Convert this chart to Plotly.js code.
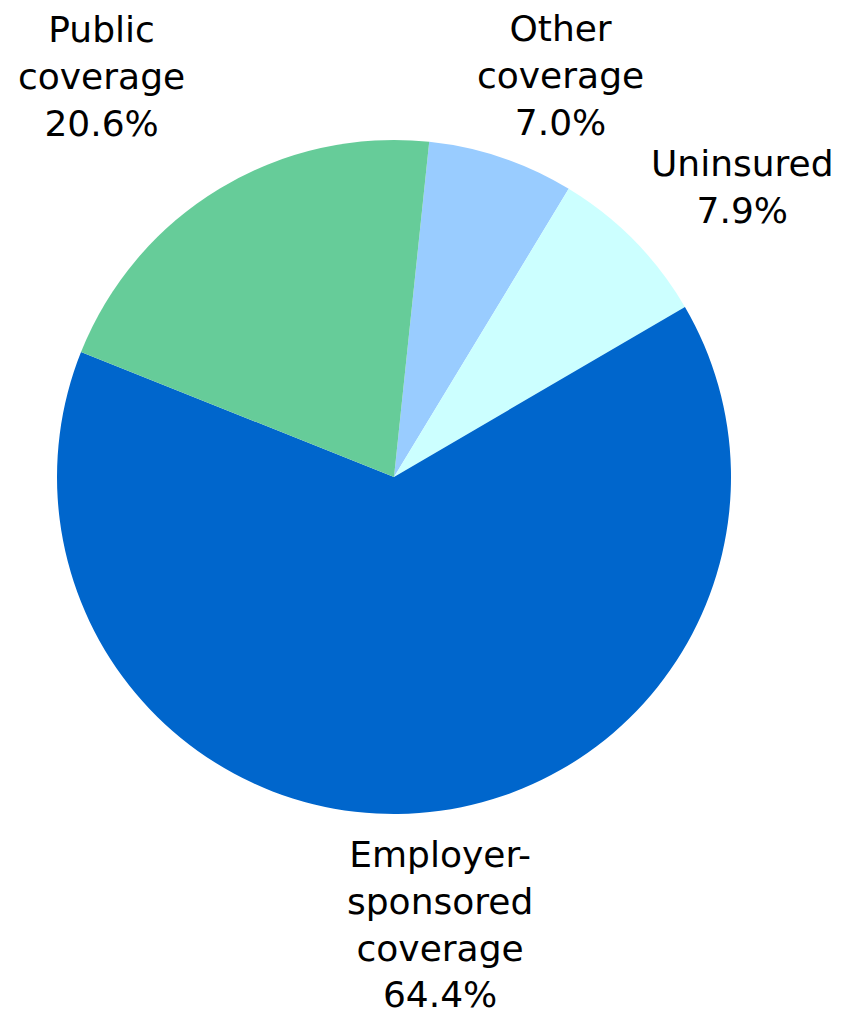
<!DOCTYPE html>
<html>
<head>
<meta charset="utf-8">
<script src="https://cdn.plot.ly/plotly-3.0.1.min.js"></script>
<style>html,body{margin:0;padding:0;background:#fff;}#chart{width:841px;height:1019px;}</style>
</head>
<body>
<div id="chart"></div>
<script>
const categories = ["Other coverage", "Uninsured", "Employer-sponsored coverage", "Public coverage"];
const labelLines = ["Other<br>coverage", "Uninsured", "Employer-<br>sponsored<br>coverage", "Public<br>coverage"];
const values = [7.0, 7.9, 64.4, 20.6];
const colors = ["#99CCFF", "#CCFFFF", "#0066CC", "#66CC99"];

const W = 841, H = 1019;
// label block centres (pixels)
const labelPos = [[560, 75], [742, 187], [440, 924], [101, 76]];

const annotations = categories.map((c, i) => ({
  text: labelLines[i] + "<br>" + values[i].toFixed(1) + "%",
  x: labelPos[i][0] / W,
  y: 1 - labelPos[i][1] / H,
  xref: "paper", yref: "paper",
  xanchor: "center", yanchor: "middle",
  showarrow: false,
  align: "center",
  font: {family: "DejaVu Sans, Verdana, sans-serif", size: 36, color: "#000"}
}));

const cx = 394, cy = 477, r = 337;
const trace = {
  type: "pie",
  labels: categories,
  values: values,
  sort: false,
  direction: "clockwise",
  rotation: 6,
  textinfo: "none",
  hoverinfo: "label+percent",
  marker: {colors: colors, line: {width: 0}},
  domain: {x: [(cx - r) / W, (cx + r) / W], y: [1 - (cy + r) / H, 1 - (cy - r) / H]}
};

Plotly.newPlot("chart", [trace], {
  width: W, height: H,
  margin: {l: 0, r: 0, t: 0, b: 0},
  showlegend: false,
  paper_bgcolor: "#fff",
  annotations: annotations
}, {displayModeBar: false, staticPlot: true});
</script>
</body>
</html>
